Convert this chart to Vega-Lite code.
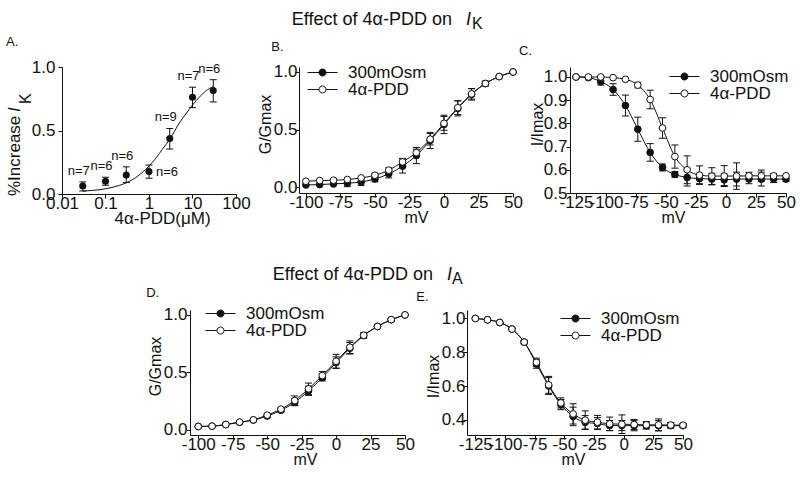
{
 "$schema": "https://vega.github.io/schema/vega-lite/v6.json",
 "padding": {"left": 5, "top": 0, "right": 0, "bottom": 0},
 "background": "white",
 "spacing": 0,
 "resolve": {"scale": {"fill": "independent", "x": "independent", "y": "independent"}, "legend": {"fill": "independent"}},
 "config": {
  "font": "Liberation Sans",
  "view": {"stroke": null},
  "axis": {"domainColor": "#111", "tickColor": "#111", "labelColor": "#111", "titleColor": "#111", "labelFontSize": 17, "titleFontSize": 16, "titleFontWeight": "normal", "tickSize": 4, "grid": false, "labelFlush": false, "labelOverlap": false, "domainWidth": 1, "tickWidth": 1, "labelExpr": "replace(datum.label, '−', '-')"},
  "axisX": {"labelPadding": -3, "titlePadding": -1},
  "axisY": {"titlePadding": 0},
  "title": {"fontSize": 13, "fontWeight": "normal", "anchor": "start", "frame": "bounds", "color": "#111", "baseline": "top", "offset": 9},
  "legend": {"title": null, "orient": "none", "symbolType": "M-3,0H-0.7M0.7,0H3M0.7,0A0.7,0.7,0,1,1,-0.7,0A0.7,0.7,0,1,1,0.7,0Z", "symbolSize": 100, "symbolStrokeColor": "#111", "symbolStrokeWidth": 1, "symbolOffset": 10, "labelOffset": 17, "labelFontSize": 17, "labelColor": "#111", "rowPadding": -2, "padding": 0}
 },
 "datasets": {
  "A": [
   {"c": 0.03, "m": 0.063, "lo": 0.024, "hi": 0.095, "n": "n=7"},
   {"c": 0.1, "m": 0.10, "lo": 0.069, "hi": 0.132, "n": "n=6"},
   {"c": 0.3, "m": 0.15, "lo": 0.09, "hi": 0.214, "n": "n=6"},
   {"c": 1, "m": 0.177, "lo": 0.124, "hi": 0.228, "n": "n=6"},
   {"c": 3, "m": 0.437, "lo": 0.354, "hi": 0.516, "n": "n=9"},
   {"c": 10, "m": 0.762, "lo": 0.68, "hi": 0.841, "n": "n=7"},
   {"c": 30, "m": 0.815, "lo": 0.725, "hi": 0.9, "n": "n=6"}
  ],
  "Afit": [
   {"c": 0.03, "f": 0.023}, {"c": 0.05, "f": 0.028}, {"c": 0.1, "f": 0.041}, {"c": 0.2, "f": 0.066},
   {"c": 0.3, "f": 0.088}, {"c": 0.5, "f": 0.13}, {"c": 0.7, "f": 0.17}, {"c": 1, "f": 0.22},
   {"c": 1.5, "f": 0.29}, {"c": 2, "f": 0.35}, {"c": 3, "f": 0.43}, {"c": 5, "f": 0.56},
   {"c": 7, "f": 0.63}, {"c": 10, "f": 0.70}, {"c": 15, "f": 0.77}, {"c": 20, "f": 0.81}, {"c": 30, "f": 0.845}
  ],
  "B": [
   {"v": -100, "cond": "300mOsm", "m": 0.02, "lo": null, "hi": null},
   {"v": -90, "cond": "300mOsm", "m": 0.023, "lo": null, "hi": null},
   {"v": -80, "cond": "300mOsm", "m": 0.029, "lo": null, "hi": null},
   {"v": -70, "cond": "300mOsm", "m": 0.035, "lo": 0.005, "hi": 0.065},
   {"v": -60, "cond": "300mOsm", "m": 0.046, "lo": 0.016, "hi": 0.076},
   {"v": -50, "cond": "300mOsm", "m": 0.072, "lo": 0.047, "hi": 0.097},
   {"v": -40, "cond": "300mOsm", "m": 0.116, "lo": 0.081, "hi": 0.151},
   {"v": -30, "cond": "300mOsm", "m": 0.183, "lo": 0.123, "hi": 0.243},
   {"v": -20, "cond": "300mOsm", "m": 0.275, "lo": 0.205, "hi": 0.345},
   {"v": -10, "cond": "300mOsm", "m": 0.406, "lo": 0.336, "hi": 0.476},
   {"v": 0, "cond": "300mOsm", "m": 0.545, "lo": 0.465, "hi": 0.625},
   {"v": 10, "cond": "300mOsm", "m": 0.684, "lo": 0.619, "hi": 0.749},
   {"v": 20, "cond": "300mOsm", "m": 0.806, "lo": 0.756, "hi": 0.856},
   {"v": 30, "cond": "300mOsm", "m": 0.899, "lo": 0.879, "hi": 0.919},
   {"v": 40, "cond": "300mOsm", "m": 0.96, "lo": null, "hi": null},
   {"v": 50, "cond": "300mOsm", "m": 1.0, "lo": null, "hi": null},
   {"v": -100, "cond": "4α-PDD", "m": 0.052, "lo": null, "hi": null},
   {"v": -90, "cond": "4α-PDD", "m": 0.058, "lo": null, "hi": null},
   {"v": -80, "cond": "4α-PDD", "m": 0.061, "lo": null, "hi": null},
   {"v": -70, "cond": "4α-PDD", "m": 0.067, "lo": null, "hi": null},
   {"v": -60, "cond": "4α-PDD", "m": 0.081, "lo": null, "hi": null},
   {"v": -50, "cond": "4α-PDD", "m": 0.104, "lo": 0.089, "hi": 0.119},
   {"v": -40, "cond": "4α-PDD", "m": 0.148, "lo": 0.128, "hi": 0.168},
   {"v": -30, "cond": "4α-PDD", "m": 0.22, "lo": 0.19, "hi": 0.25},
   {"v": -20, "cond": "4α-PDD", "m": 0.30, "lo": 0.27, "hi": 0.33},
   {"v": -10, "cond": "4α-PDD", "m": 0.417, "lo": 0.367, "hi": 0.467},
   {"v": 0, "cond": "4α-PDD", "m": 0.554, "lo": 0.494, "hi": 0.614},
   {"v": 10, "cond": "4α-PDD", "m": 0.69, "lo": 0.63, "hi": 0.75},
   {"v": 20, "cond": "4α-PDD", "m": 0.81, "lo": 0.765, "hi": 0.855},
   {"v": 30, "cond": "4α-PDD", "m": 0.90, "lo": 0.88, "hi": 0.92},
   {"v": 40, "cond": "4α-PDD", "m": 0.96, "lo": null, "hi": null},
   {"v": 50, "cond": "4α-PDD", "m": 1.0, "lo": null, "hi": null}
  ],
  "C": [
   {"v": -125, "cond": "300mOsm", "m": 1.0, "lo": null, "hi": null},
   {"v": -114.7, "cond": "300mOsm", "m": 0.997, "lo": null, "hi": null},
   {"v": -104.4, "cond": "300mOsm", "m": 0.98, "lo": 0.965, "hi": 0.995},
   {"v": -94.1, "cond": "300mOsm", "m": 0.946, "lo": 0.921, "hi": 0.971},
   {"v": -83.8, "cond": "300mOsm", "m": 0.877, "lo": 0.832, "hi": 0.922},
   {"v": -73.5, "cond": "300mOsm", "m": 0.775, "lo": 0.723, "hi": 0.827},
   {"v": -63.2, "cond": "300mOsm", "m": 0.675, "lo": 0.637, "hi": 0.713},
   {"v": -52.9, "cond": "300mOsm", "m": 0.61, "lo": 0.595, "hi": 0.625},
   {"v": -42.6, "cond": "300mOsm", "m": 0.58, "lo": 0.568, "hi": 0.592},
   {"v": -32.4, "cond": "300mOsm", "m": 0.567, "lo": 0.53, "hi": 0.604},
   {"v": -22.1, "cond": "300mOsm", "m": 0.562, "lo": 0.54, "hi": 0.584},
   {"v": -11.8, "cond": "300mOsm", "m": 0.56, "lo": 0.535, "hi": 0.585},
   {"v": -1.5, "cond": "300mOsm", "m": 0.557, "lo": 0.532, "hi": 0.582},
   {"v": 8.8, "cond": "300mOsm", "m": 0.56, "lo": 0.53, "hi": 0.59},
   {"v": 19.1, "cond": "300mOsm", "m": 0.56, "lo": 0.54, "hi": 0.58},
   {"v": 29.4, "cond": "300mOsm", "m": 0.56, "lo": 0.53, "hi": 0.59},
   {"v": 39.7, "cond": "300mOsm", "m": 0.56, "lo": 0.545, "hi": 0.575},
   {"v": 50, "cond": "300mOsm", "m": 0.56, "lo": 0.55, "hi": 0.57},
   {"v": -125, "cond": "4α-PDD", "m": 1.0, "lo": null, "hi": null},
   {"v": -114.7, "cond": "4α-PDD", "m": 1.0, "lo": null, "hi": null},
   {"v": -104.4, "cond": "4α-PDD", "m": 1.0, "lo": null, "hi": null},
   {"v": -94.1, "cond": "4α-PDD", "m": 0.997, "lo": null, "hi": null},
   {"v": -83.8, "cond": "4α-PDD", "m": 0.99, "lo": 0.985, "hi": 0.995},
   {"v": -73.5, "cond": "4α-PDD", "m": 0.965, "lo": 0.953, "hi": 0.977},
   {"v": -63.2, "cond": "4α-PDD", "m": 0.903, "lo": 0.863, "hi": 0.943},
   {"v": -52.9, "cond": "4α-PDD", "m": 0.78, "lo": 0.736, "hi": 0.824},
   {"v": -42.6, "cond": "4α-PDD", "m": 0.657, "lo": 0.607, "hi": 0.707},
   {"v": -32.4, "cond": "4α-PDD", "m": 0.60, "lo": 0.54, "hi": 0.66},
   {"v": -22.1, "cond": "4α-PDD", "m": 0.577, "lo": 0.537, "hi": 0.617},
   {"v": -11.8, "cond": "4α-PDD", "m": 0.573, "lo": 0.537, "hi": 0.609},
   {"v": -1.5, "cond": "4α-PDD", "m": 0.573, "lo": 0.528, "hi": 0.618},
   {"v": 8.8, "cond": "4α-PDD", "m": 0.573, "lo": 0.516, "hi": 0.63},
   {"v": 19.1, "cond": "4α-PDD", "m": 0.574, "lo": 0.559, "hi": 0.589},
   {"v": 29.4, "cond": "4α-PDD", "m": 0.574, "lo": 0.549, "hi": 0.599},
   {"v": 39.7, "cond": "4α-PDD", "m": 0.574, "lo": 0.564, "hi": 0.584},
   {"v": 50, "cond": "4α-PDD", "m": 0.574, "lo": null, "hi": null}
  ],
  "D": [
   {"v": -100, "cond": "300mOsm", "m": 0.029, "lo": null, "hi": null},
   {"v": -90, "cond": "300mOsm", "m": 0.032, "lo": null, "hi": null},
   {"v": -80, "cond": "300mOsm", "m": 0.046, "lo": null, "hi": null},
   {"v": -70, "cond": "300mOsm", "m": 0.065, "lo": null, "hi": null},
   {"v": -60, "cond": "300mOsm", "m": 0.085, "lo": null, "hi": null},
   {"v": -50, "cond": "300mOsm", "m": 0.12, "lo": 0.11, "hi": 0.13},
   {"v": -40, "cond": "300mOsm", "m": 0.17, "lo": 0.155, "hi": 0.185},
   {"v": -30, "cond": "300mOsm", "m": 0.24, "lo": 0.21, "hi": 0.27},
   {"v": -20, "cond": "300mOsm", "m": 0.34, "lo": 0.30, "hi": 0.38},
   {"v": -10, "cond": "300mOsm", "m": 0.455, "lo": 0.425, "hi": 0.485},
   {"v": 0, "cond": "300mOsm", "m": 0.585, "lo": 0.535, "hi": 0.635},
   {"v": 10, "cond": "300mOsm", "m": 0.71, "lo": 0.66, "hi": 0.76},
   {"v": 20, "cond": "300mOsm", "m": 0.82, "lo": 0.80, "hi": 0.84},
   {"v": 30, "cond": "300mOsm", "m": 0.90, "lo": null, "hi": null},
   {"v": 40, "cond": "300mOsm", "m": 0.958, "lo": 0.948, "hi": 0.968},
   {"v": 50, "cond": "300mOsm", "m": 1.0, "lo": null, "hi": null},
   {"v": -100, "cond": "4α-PDD", "m": 0.029, "lo": null, "hi": null},
   {"v": -90, "cond": "4α-PDD", "m": 0.032, "lo": null, "hi": null},
   {"v": -80, "cond": "4α-PDD", "m": 0.046, "lo": null, "hi": null},
   {"v": -70, "cond": "4α-PDD", "m": 0.067, "lo": null, "hi": null},
   {"v": -60, "cond": "4α-PDD", "m": 0.087, "lo": null, "hi": null},
   {"v": -50, "cond": "4α-PDD", "m": 0.128, "lo": 0.118, "hi": 0.138},
   {"v": -40, "cond": "4α-PDD", "m": 0.18, "lo": 0.165, "hi": 0.195},
   {"v": -30, "cond": "4α-PDD", "m": 0.255, "lo": 0.215, "hi": 0.295},
   {"v": -20, "cond": "4α-PDD", "m": 0.357, "lo": 0.307, "hi": 0.407},
   {"v": -10, "cond": "4α-PDD", "m": 0.472, "lo": 0.437, "hi": 0.507},
   {"v": 0, "cond": "4α-PDD", "m": 0.597, "lo": 0.537, "hi": 0.657},
   {"v": 10, "cond": "4α-PDD", "m": 0.719, "lo": 0.664, "hi": 0.774},
   {"v": 20, "cond": "4α-PDD", "m": 0.823, "lo": 0.798, "hi": 0.848},
   {"v": 30, "cond": "4α-PDD", "m": 0.90, "lo": null, "hi": null},
   {"v": 40, "cond": "4α-PDD", "m": 0.959, "lo": 0.949, "hi": 0.969},
   {"v": 50, "cond": "4α-PDD", "m": 1.0, "lo": null, "hi": null}
  ],
  "E": [
   {"v": -125, "cond": "300mOsm", "m": 1.0, "lo": null, "hi": null},
   {"v": -114.7, "cond": "300mOsm", "m": 0.992, "lo": null, "hi": null},
   {"v": -104.4, "cond": "300mOsm", "m": 0.976, "lo": null, "hi": null},
   {"v": -94.1, "cond": "300mOsm", "m": 0.937, "lo": null, "hi": null},
   {"v": -83.8, "cond": "300mOsm", "m": 0.86, "lo": 0.85, "hi": 0.87},
   {"v": -73.5, "cond": "300mOsm", "m": 0.73, "lo": 0.705, "hi": 0.755},
   {"v": -63.2, "cond": "300mOsm", "m": 0.60, "lo": 0.55, "hi": 0.65},
   {"v": -52.9, "cond": "300mOsm", "m": 0.49, "lo": 0.46, "hi": 0.52},
   {"v": -42.6, "cond": "300mOsm", "m": 0.42, "lo": 0.365, "hi": 0.475},
   {"v": -32.4, "cond": "300mOsm", "m": 0.385, "lo": 0.345, "hi": 0.425},
   {"v": -22.1, "cond": "300mOsm", "m": 0.378, "lo": 0.343, "hi": 0.413},
   {"v": -11.8, "cond": "300mOsm", "m": 0.366, "lo": 0.336, "hi": 0.396},
   {"v": -1.5, "cond": "300mOsm", "m": 0.366, "lo": 0.336, "hi": 0.396},
   {"v": 8.8, "cond": "300mOsm", "m": 0.365, "lo": 0.335, "hi": 0.395},
   {"v": 19.1, "cond": "300mOsm", "m": 0.365, "lo": 0.345, "hi": 0.385},
   {"v": 29.4, "cond": "300mOsm", "m": 0.365, "lo": 0.335, "hi": 0.395},
   {"v": 39.7, "cond": "300mOsm", "m": 0.365, "lo": 0.35, "hi": 0.38},
   {"v": 50, "cond": "300mOsm", "m": 0.365, "lo": 0.355, "hi": 0.375},
   {"v": -125, "cond": "4α-PDD", "m": 1.0, "lo": null, "hi": null},
   {"v": -114.7, "cond": "4α-PDD", "m": 0.992, "lo": null, "hi": null},
   {"v": -104.4, "cond": "4α-PDD", "m": 0.976, "lo": null, "hi": null},
   {"v": -94.1, "cond": "4α-PDD", "m": 0.937, "lo": null, "hi": null},
   {"v": -83.8, "cond": "4α-PDD", "m": 0.86, "lo": 0.85, "hi": 0.87},
   {"v": -73.5, "cond": "4α-PDD", "m": 0.74, "lo": 0.715, "hi": 0.765},
   {"v": -63.2, "cond": "4α-PDD", "m": 0.607, "lo": 0.557, "hi": 0.657},
   {"v": -52.9, "cond": "4α-PDD", "m": 0.50, "lo": 0.47, "hi": 0.53},
   {"v": -42.6, "cond": "4α-PDD", "m": 0.435, "lo": 0.375, "hi": 0.495},
   {"v": -32.4, "cond": "4α-PDD", "m": 0.398, "lo": 0.343, "hi": 0.453},
   {"v": -22.1, "cond": "4α-PDD", "m": 0.386, "lo": 0.346, "hi": 0.426},
   {"v": -11.8, "cond": "4α-PDD", "m": 0.376, "lo": 0.336, "hi": 0.416},
   {"v": -1.5, "cond": "4α-PDD", "m": 0.374, "lo": 0.319, "hi": 0.429},
   {"v": 8.8, "cond": "4α-PDD", "m": 0.372, "lo": 0.342, "hi": 0.402},
   {"v": 19.1, "cond": "4α-PDD", "m": 0.37, "lo": 0.35, "hi": 0.39},
   {"v": 29.4, "cond": "4α-PDD", "m": 0.37, "lo": 0.335, "hi": 0.405},
   {"v": 39.7, "cond": "4α-PDD", "m": 0.369, "lo": 0.354, "hi": 0.384},
   {"v": 50, "cond": "4α-PDD", "m": 0.368, "lo": 0.358, "hi": 0.378}
  ]
 },
 "vconcat": [
  {
   "width": 676, "height": 36,
   "data": {"values": [{"t": "Effect of 4α-PDD on", "i": "I", "k": "K", "ctr": 0}]},
   "encoding": {"x": {"field": "ctr", "type": "quantitative", "scale": {"domain": [-1, 1], "nice": false, "zero": false}, "axis": null}},
   "layer": [
    {"mark": {"type": "text", "align": "right", "baseline": "alphabetic", "fontSize": 18, "dx": 52, "dy": 7, "color": "#111"}, "encoding": {"text": {"field": "t"}}},
    {"mark": {"type": "text", "align": "left", "baseline": "alphabetic", "fontSize": 18, "fontStyle": "italic", "dx": 66, "dy": 7, "color": "#111"}, "encoding": {"text": {"field": "i"}}},
    {"mark": {"type": "text", "align": "left", "baseline": "alphabetic", "fontSize": 16, "dx": 72, "dy": 11, "color": "#111"}, "encoding": {"text": {"field": "k"}}}
   ]
  },
  {
   "spacing": 63,
   "bounds": "flush",
   "resolve": {"scale": {"fill": "independent", "x": "independent", "y": "independent"}, "legend": {"fill": "independent"}},
   "hconcat": [
    {
     "title": {"text": "A."},
     "width": 174, "height": 127,
     "layer": [
      {"data": {"name": "A"}, "mark": {"type": "rule", "color": "#111", "strokeWidth": 1},
       "encoding": {
        "x": {"field": "c", "type": "quantitative", "scale": {"type": "log", "domain": [0.01, 100], "nice": false}, "axis": {"values": [0.01, 0.1, 1, 10, 100], "format": "~g", "title": "4α-PDD(μM)", "titleX": 100, "titleFontSize": 17}},
        "y": {"field": "lo", "type": "quantitative", "scale": {"domain": [0, 1], "nice": false, "zero": false}, "axis": {"values": [0, 0.5, 1], "format": ".1f", "title": null, "labelPadding": 3}},
        "y2": {"field": "hi"}}},
      {"data": {"name": "A"}, "mark": {"type": "tick", "orient": "horizontal", "size": 7, "thickness": 1, "color": "#111", "opacity": 1},
       "encoding": {
        "x": {"field": "c", "type": "quantitative", "scale": {"type": "log", "domain": [0.01, 100], "nice": false}, "axis": {"values": [0.01, 0.1, 1, 10, 100], "format": "~g", "title": "4α-PDD(μM)", "titleX": 100, "titleFontSize": 17}},
        "y": {"field": "lo", "type": "quantitative", "scale": {"domain": [0, 1], "nice": false, "zero": false}, "axis": {"values": [0, 0.5, 1], "format": ".1f", "title": null, "labelPadding": 3}}}},
      {"data": {"name": "A"}, "mark": {"type": "tick", "orient": "horizontal", "size": 7, "thickness": 1, "color": "#111", "opacity": 1},
       "encoding": {
        "x": {"field": "c", "type": "quantitative", "scale": {"type": "log", "domain": [0.01, 100], "nice": false}, "axis": {"values": [0.01, 0.1, 1, 10, 100], "format": "~g", "title": "4α-PDD(μM)", "titleX": 100, "titleFontSize": 17}},
        "y": {"field": "hi", "type": "quantitative", "scale": {"domain": [0, 1], "nice": false, "zero": false}, "axis": {"values": [0, 0.5, 1], "format": ".1f", "title": null, "labelPadding": 3}}}},
      {"data": {"name": "Afit"}, "mark": {"type": "line", "color": "#111", "strokeWidth": 1, "interpolate": "monotone"},
       "encoding": {
        "x": {"field": "c", "type": "quantitative", "scale": {"type": "log", "domain": [0.01, 100], "nice": false}, "axis": {"values": [0.01, 0.1, 1, 10, 100], "format": "~g", "title": "4α-PDD(μM)", "titleX": 100, "titleFontSize": 17}},
        "y": {"field": "f", "type": "quantitative", "scale": {"domain": [0, 1], "nice": false, "zero": false}, "axis": {"values": [0, 0.5, 1], "format": ".1f", "title": null, "labelPadding": 3}}}},
      {"data": {"name": "A"}, "mark": {"type": "point", "filled": true, "size": 50, "color": "#111", "opacity": 1},
       "encoding": {
        "x": {"field": "c", "type": "quantitative", "scale": {"type": "log", "domain": [0.01, 100], "nice": false}, "axis": {"values": [0.01, 0.1, 1, 10, 100], "format": "~g", "title": "4α-PDD(μM)", "titleX": 100, "titleFontSize": 17}},
        "y": {"field": "m", "type": "quantitative", "scale": {"domain": [0, 1], "nice": false, "zero": false}, "axis": {"values": [0, 0.5, 1], "format": ".1f", "title": null, "labelPadding": 3}}}},
      {"data": {"name": "A"}, "transform": [{"filter": "datum.c != 1"}], "mark": {"type": "text", "fontSize": 13, "baseline": "bottom", "dy": -4, "dx": -4, "color": "#111"},
       "encoding": {
        "x": {"field": "c", "type": "quantitative", "scale": {"type": "log", "domain": [0.01, 100], "nice": false}, "axis": {"values": [0.01, 0.1, 1, 10, 100], "format": "~g", "title": "4α-PDD(μM)", "titleX": 100, "titleFontSize": 17}},
        "y": {"field": "hi", "type": "quantitative", "scale": {"domain": [0, 1], "nice": false, "zero": false}, "axis": {"values": [0, 0.5, 1], "format": ".1f", "title": null, "labelPadding": 3}},
        "text": {"field": "n"}}},
      {"data": {"name": "A"}, "transform": [{"filter": "datum.c == 1"}], "mark": {"type": "text", "fontSize": 13, "baseline": "middle", "align": "left", "dx": 7, "color": "#111"},
       "encoding": {
        "x": {"field": "c", "type": "quantitative", "scale": {"type": "log", "domain": [0.01, 100], "nice": false}, "axis": {"values": [0.01, 0.1, 1, 10, 100], "format": "~g", "title": "4α-PDD(μM)", "titleX": 100, "titleFontSize": 17}},
        "y": {"field": "m", "type": "quantitative", "scale": {"domain": [0, 1], "nice": false, "zero": false}, "axis": {"values": [0, 0.5, 1], "format": ".1f", "title": null, "labelPadding": 3}},
        "text": {"field": "n"}}},
      {"data": {"values": [{"t": "%Increase", "i": "I", "k": "K"}]},
       "layer": [
        {"mark": {"type": "text", "angle": 270, "align": "left", "baseline": "alphabetic", "fontSize": 17, "dx": -2, "dy": -42, "color": "#111"},
         "encoding": {
          "x": {"datum": 0.01, "type": "quantitative", "scale": {"type": "log", "domain": [0.01, 100], "nice": false}, "axis": {"values": [0.01, 0.1, 1, 10, 100], "format": "~g", "title": "4α-PDD(μM)", "titleX": 100, "titleFontSize": 17}},
          "y": {"datum": 0, "type": "quantitative", "scale": {"domain": [0, 1], "nice": false, "zero": false}, "axis": {"values": [0, 0.5, 1], "format": ".1f", "title": null, "labelPadding": 3}},
          "text": {"field": "t"}}},
        {"mark": {"type": "text", "angle": 270, "align": "left", "baseline": "alphabetic", "fontSize": 17, "fontStyle": "italic", "dx": 82, "dy": -42, "color": "#111"},
         "encoding": {
          "x": {"datum": 0.01, "type": "quantitative", "scale": {"type": "log", "domain": [0.01, 100], "nice": false}, "axis": {"values": [0.01, 0.1, 1, 10, 100], "format": "~g", "title": "4α-PDD(μM)", "titleX": 100, "titleFontSize": 17}},
          "y": {"datum": 0, "type": "quantitative", "scale": {"domain": [0, 1], "nice": false, "zero": false}, "axis": {"values": [0, 0.5, 1], "format": ".1f", "title": null, "labelPadding": 3}},
          "text": {"field": "i"}}},
        {"mark": {"type": "text", "angle": 270, "align": "left", "baseline": "alphabetic", "fontSize": 16, "dx": 90, "dy": -31, "color": "#111"},
         "encoding": {
          "x": {"datum": 0.01, "type": "quantitative", "scale": {"type": "log", "domain": [0.01, 100], "nice": false}, "axis": {"values": [0.01, 0.1, 1, 10, 100], "format": "~g", "title": "4α-PDD(μM)", "titleX": 100, "titleFontSize": 17}},
          "y": {"datum": 0, "type": "quantitative", "scale": {"domain": [0, 1], "nice": false, "zero": false}, "axis": {"values": [0, 0.5, 1], "format": ".1f", "title": null, "labelPadding": 3}},
          "text": {"field": "k"}}}
       ]}
     ]
    },
    {
     "spacing": 57,
     "bounds": "flush",
     "resolve": {"scale": {"fill": "independent", "x": "independent", "y": "independent"}, "legend": {"fill": "independent"}},
     "hconcat": [
      {
       "title": {"text": "B.", "dx": 14},
       "width": 214, "height": 126,
       "data": {"name": "B"},
       "encoding": {"x": {"field": "v", "type": "quantitative", "scale": {"domain": [-105, 50], "nice": false, "zero": false}, "axis": {"values": [-100, -75, -50, -25, 0, 25, 50], "title": "mV", "titleX": 117}}},
       "layer": [
        {"mark": {"type": "rule", "color": "#111", "strokeWidth": 1},
         "encoding": {"y": {"field": "lo", "type": "quantitative", "scale": {"domain": [-0.05, 1.043], "nice": false, "zero": false}, "axis": {"values": [0, 0.5, 1], "format": ".1f", "title": "G/Gmax", "titleY": 57, "labelPadding": -2}}, "y2": {"field": "hi"}}},
        {"mark": {"type": "tick", "orient": "horizontal", "size": 7, "thickness": 1, "color": "#111", "opacity": 1},
         "encoding": {"y": {"field": "lo", "type": "quantitative", "scale": {"domain": [-0.05, 1.043], "nice": false, "zero": false}, "axis": {"values": [0, 0.5, 1], "format": ".1f", "title": "G/Gmax", "titleY": 57, "labelPadding": -2}}}},
        {"mark": {"type": "tick", "orient": "horizontal", "size": 7, "thickness": 1, "color": "#111", "opacity": 1},
         "encoding": {"y": {"field": "hi", "type": "quantitative", "scale": {"domain": [-0.05, 1.043], "nice": false, "zero": false}, "axis": {"values": [0, 0.5, 1], "format": ".1f", "title": "G/Gmax", "titleY": 57, "labelPadding": -2}}}},
        {"mark": {"type": "line", "color": "#111", "strokeWidth": 1, "interpolate": "monotone"},
         "encoding": {"y": {"field": "m", "type": "quantitative", "scale": {"domain": [-0.05, 1.043], "nice": false, "zero": false}, "axis": {"values": [0, 0.5, 1], "format": ".1f", "title": "G/Gmax", "titleY": 57, "labelPadding": -2}}, "detail": {"field": "cond"}}},
        {"mark": {"type": "point", "filled": true, "size": 45, "stroke": "#111", "strokeWidth": 1, "opacity": 1},
         "encoding": {"y": {"field": "m", "type": "quantitative", "scale": {"domain": [-0.05, 1.043], "nice": false, "zero": false}, "axis": {"values": [0, 0.5, 1], "format": ".1f", "title": "G/Gmax", "titleY": 57, "labelPadding": -2}},
          "fill": {"field": "cond", "type": "nominal", "scale": {"domain": ["300mOsm", "4α-PDD"], "range": ["#111", "white"]},
           "legend": {"legendX": 5, "legendY": -3}}}}
       ]
      },
      {
       "title": {"text": "C.", "dx": -10},
       "width": 216, "height": 126,
       "data": {"name": "C"},
       "encoding": {"x": {"field": "v", "type": "quantitative", "scale": {"domain": [-130, 50], "nice": false, "zero": false}, "axis": {"values": [-125, -100, -75, -50, -25, 0, 25, 50], "title": "mV", "titleX": 103}}},
       "layer": [
        {"mark": {"type": "rule", "color": "#111", "strokeWidth": 1},
         "encoding": {"y": {"field": "lo", "type": "quantitative", "scale": {"domain": [0.5, 1.043], "nice": false, "zero": false}, "axis": {"values": [0.5, 0.6, 0.7, 0.8, 0.9, 1], "format": ".1f", "title": "I/Imax", "titleY": 57, "titleX": -25, "labelPadding": -1}}, "y2": {"field": "hi"}}},
        {"mark": {"type": "tick", "orient": "horizontal", "size": 7, "thickness": 1, "color": "#111", "opacity": 1},
         "encoding": {"y": {"field": "lo", "type": "quantitative", "scale": {"domain": [0.5, 1.043], "nice": false, "zero": false}, "axis": {"values": [0.5, 0.6, 0.7, 0.8, 0.9, 1], "format": ".1f", "title": "I/Imax", "titleY": 57, "titleX": -25, "labelPadding": -1}}}},
        {"mark": {"type": "tick", "orient": "horizontal", "size": 7, "thickness": 1, "color": "#111", "opacity": 1},
         "encoding": {"y": {"field": "hi", "type": "quantitative", "scale": {"domain": [0.5, 1.043], "nice": false, "zero": false}, "axis": {"values": [0.5, 0.6, 0.7, 0.8, 0.9, 1], "format": ".1f", "title": "I/Imax", "titleY": 57, "titleX": -25, "labelPadding": -1}}}},
        {"mark": {"type": "line", "color": "#111", "strokeWidth": 1, "interpolate": "monotone"},
         "encoding": {"y": {"field": "m", "type": "quantitative", "scale": {"domain": [0.5, 1.043], "nice": false, "zero": false}, "axis": {"values": [0.5, 0.6, 0.7, 0.8, 0.9, 1], "format": ".1f", "title": "I/Imax", "titleY": 57, "titleX": -25, "labelPadding": -1}}, "detail": {"field": "cond"}}},
        {"mark": {"type": "point", "filled": true, "size": 45, "stroke": "#111", "strokeWidth": 1, "opacity": 1},
         "encoding": {"y": {"field": "m", "type": "quantitative", "scale": {"domain": [0.5, 1.043], "nice": false, "zero": false}, "axis": {"values": [0.5, 0.6, 0.7, 0.8, 0.9, 1], "format": ".1f", "title": "I/Imax", "titleY": 57, "titleX": -25, "labelPadding": -1}},
          "fill": {"field": "cond", "type": "nominal", "scale": {"domain": ["300mOsm", "4α-PDD"], "range": ["#111", "white"]},
           "legend": {"legendX": 96, "legendY": 1}}}}
       ]
      }
     ]
    }
   ]
  },
  {
   "width": 676, "height": 44,
   "data": {"values": [{"t": "Effect of 4α-PDD on", "i": "I", "k": "A", "ctr": 0}]},
   "encoding": {"x": {"field": "ctr", "type": "quantitative", "scale": {"domain": [-1, 1], "nice": false, "zero": false}, "axis": null}},
   "layer": [
    {"mark": {"type": "text", "align": "right", "baseline": "alphabetic", "fontSize": 18, "dx": 33, "dy": 32, "color": "#111"}, "encoding": {"text": {"field": "t"}}},
    {"mark": {"type": "text", "align": "left", "baseline": "alphabetic", "fontSize": 18, "fontStyle": "italic", "dx": 47, "dy": 32, "color": "#111"}, "encoding": {"text": {"field": "i"}}},
    {"mark": {"type": "text", "align": "left", "baseline": "alphabetic", "fontSize": 16, "dx": 52, "dy": 36, "color": "#111"}, "encoding": {"text": {"field": "k"}}}
   ]
  },
  {
   "spacing": 62,
   "bounds": "flush",
   "resolve": {"scale": {"fill": "independent", "x": "independent", "y": "independent"}, "legend": {"fill": "independent"}},
   "hconcat": [
    {"width": 66, "height": 10, "data": {"values": [{"p": 0}]},
     "mark": {"type": "point", "opacity": 0, "size": 1},
     "encoding": {"x": {"field": "p", "type": "quantitative", "scale": {"domain": [0, 1]}, "axis": null}, "y": {"field": "p", "type": "quantitative", "scale": {"domain": [0, 1]}, "axis": null}}},
    {
     "title": {"text": "D.", "dx": -1, "offset": 5},
     "width": 215, "height": 125,
     "data": {"name": "D"},
     "encoding": {"x": {"field": "v", "type": "quantitative", "scale": {"domain": [-106, 50], "nice": false, "zero": false}, "axis": {"values": [-100, -75, -50, -25, 0, 25, 50], "title": "mV", "titleX": 115}}},
     "layer": [
      {"mark": {"type": "rule", "color": "#111", "strokeWidth": 1},
       "encoding": {"y": {"field": "lo", "type": "quantitative", "scale": {"domain": [-0.045, 1.043], "nice": false, "zero": false}, "axis": {"values": [0, 0.5, 1], "format": ".1f", "title": "G/Gmax", "titleY": 56, "labelPadding": -1}}, "y2": {"field": "hi"}}},
      {"mark": {"type": "tick", "orient": "horizontal", "size": 7, "thickness": 1, "color": "#111", "opacity": 1},
       "encoding": {"y": {"field": "lo", "type": "quantitative", "scale": {"domain": [-0.045, 1.043], "nice": false, "zero": false}, "axis": {"values": [0, 0.5, 1], "format": ".1f", "title": "G/Gmax", "titleY": 56, "labelPadding": -1}}}},
      {"mark": {"type": "tick", "orient": "horizontal", "size": 7, "thickness": 1, "color": "#111", "opacity": 1},
       "encoding": {"y": {"field": "hi", "type": "quantitative", "scale": {"domain": [-0.045, 1.043], "nice": false, "zero": false}, "axis": {"values": [0, 0.5, 1], "format": ".1f", "title": "G/Gmax", "titleY": 56, "labelPadding": -1}}}},
      {"mark": {"type": "line", "color": "#111", "strokeWidth": 1, "interpolate": "monotone"},
       "encoding": {"y": {"field": "m", "type": "quantitative", "scale": {"domain": [-0.045, 1.043], "nice": false, "zero": false}, "axis": {"values": [0, 0.5, 1], "format": ".1f", "title": "G/Gmax", "titleY": 56, "labelPadding": -1}}, "detail": {"field": "cond"}}},
      {"mark": {"type": "point", "filled": true, "size": 45, "stroke": "#111", "strokeWidth": 1, "opacity": 1},
       "encoding": {"y": {"field": "m", "type": "quantitative", "scale": {"domain": [-0.045, 1.043], "nice": false, "zero": false}, "axis": {"values": [0, 0.5, 1], "format": ".1f", "title": "G/Gmax", "titleY": 56, "labelPadding": -1}},
        "fill": {"field": "cond", "type": "nominal", "scale": {"domain": ["300mOsm", "4α-PDD"], "range": ["#111", "white"]},
         "legend": {"legendX": 12, "legendY": -5}}}}
     ]
    },
    {
     "title": {"text": "E.", "dx": -9, "offset": 5},
     "width": 216, "height": 125,
     "data": {"name": "E"},
     "encoding": {"x": {"field": "v", "type": "quantitative", "scale": {"domain": [-132, 50], "nice": false, "zero": false}, "axis": {"values": [-125, -100, -75, -50, -25, 0, 25, 50], "title": "mV", "titleX": 106}}},
     "layer": [
      {"mark": {"type": "rule", "color": "#111", "strokeWidth": 1},
       "encoding": {"y": {"field": "lo", "type": "quantitative", "scale": {"domain": [0.31, 1.05], "nice": false, "zero": false}, "axis": {"values": [0.4, 0.6, 0.8, 1], "format": ".1f", "title": "I/Imax", "titleY": 66, "labelPadding": -2}}, "y2": {"field": "hi"}}},
      {"mark": {"type": "tick", "orient": "horizontal", "size": 7, "thickness": 1, "color": "#111", "opacity": 1},
       "encoding": {"y": {"field": "lo", "type": "quantitative", "scale": {"domain": [0.31, 1.05], "nice": false, "zero": false}, "axis": {"values": [0.4, 0.6, 0.8, 1], "format": ".1f", "title": "I/Imax", "titleY": 66, "labelPadding": -2}}}},
      {"mark": {"type": "tick", "orient": "horizontal", "size": 7, "thickness": 1, "color": "#111", "opacity": 1},
       "encoding": {"y": {"field": "hi", "type": "quantitative", "scale": {"domain": [0.31, 1.05], "nice": false, "zero": false}, "axis": {"values": [0.4, 0.6, 0.8, 1], "format": ".1f", "title": "I/Imax", "titleY": 66, "labelPadding": -2}}}},
      {"mark": {"type": "line", "color": "#111", "strokeWidth": 1, "interpolate": "monotone"},
       "encoding": {"y": {"field": "m", "type": "quantitative", "scale": {"domain": [0.31, 1.05], "nice": false, "zero": false}, "axis": {"values": [0.4, 0.6, 0.8, 1], "format": ".1f", "title": "I/Imax", "titleY": 66, "labelPadding": -2}}, "detail": {"field": "cond"}}},
      {"mark": {"type": "point", "filled": true, "size": 45, "stroke": "#111", "strokeWidth": 1, "opacity": 1},
       "encoding": {"y": {"field": "m", "type": "quantitative", "scale": {"domain": [0.31, 1.05], "nice": false, "zero": false}, "axis": {"values": [0.4, 0.6, 0.8, 1], "format": ".1f", "title": "I/Imax", "titleY": 66, "labelPadding": -2}},
        "fill": {"field": "cond", "type": "nominal", "scale": {"domain": ["300mOsm", "4α-PDD"], "range": ["#111", "white"]},
         "legend": {"legendX": 90, "legendY": 0}}}}
     ]
    }
   ]
  }
 ]
}
